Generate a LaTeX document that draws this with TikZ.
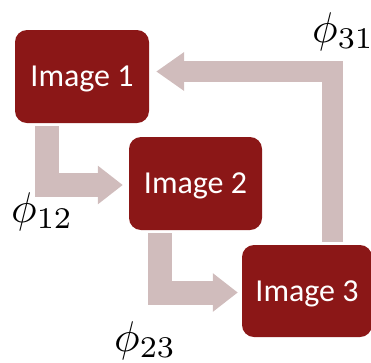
\documentclass[tikz,border=0pt]{standalone}
\usepackage{graphicx}
\usepackage{fontspec}
\setmainfont{Carlito}
\usetikzlibrary{arrows.meta}
\definecolor{boxred}{HTML}{8B1717}
\definecolor{flowpink}{HTML}{D0BCBC}
\newcommand{\maplbl}[1]{\scalebox{4.3}{$\phi_{#1}$}}
\tikzset{
  imgbox/.style={fill=boxred, draw=none, rounded corners=12pt,
    minimum width=134pt, minimum height=93pt, inner sep=0pt,
    text=white, font=\fontsize{32}{38}\selectfont,
    text height=20.6pt, text depth=0pt},
  flow/.style={draw=flowpink, line width=24pt, line join=miter,
    -{Triangle[length=25pt,width=37pt]}},
  maplabel/.style={inner sep=0pt, anchor=base west}
}
\begin{document}
\begin{tikzpicture}[x=1pt,y=-1pt]
  \useasboundingbox (0,0) rectangle (371,362);
  % the three images
  \node[imgbox] (b1) at (82,76.5) {Image 1};
  \node[imgbox, minimum width=133pt] (b2) at (195.5,183.5) {Image 2};
  \node[imgbox, minimum width=130pt, minimum height=92pt] (b3) at (307,291) {Image 3};
  % mappings between them
  \draw[flow] ([xshift=-35pt,yshift=-3pt]b1.south) |- ([xshift=-6pt,yshift=-1.5pt]b2.west);
  \draw[flow] ([xshift=-35.5pt,yshift=-3pt]b2.south) |- ([xshift=-4pt,yshift=-1.5pt]b3.west);
  \draw[flow, line width=21pt, -{Triangle[length=28pt,width=37pt]}]
    ([xshift=25.5pt,yshift=3pt]b3.north) |- ([xshift=7pt,yshift=5pt]b1.east);
  % labels
  \node[maplabel] (l12) at (11,222) {\maplbl{12}};
  \node[maplabel] (l23) at (114,351) {\maplbl{23}};
  \node[maplabel] (l31) at (312,42) {\maplbl{31}};
\end{tikzpicture}
\end{document}
